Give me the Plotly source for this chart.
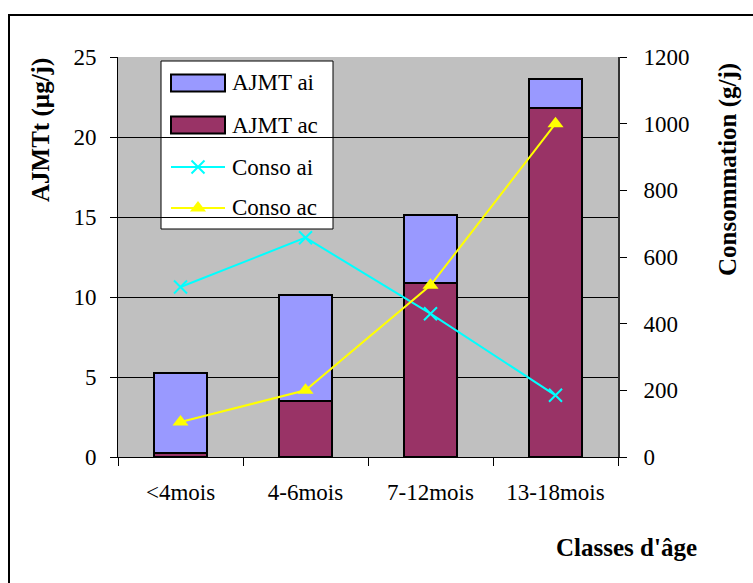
import plotly.graph_objects as go

# Age classes and measured values
categories = ["<4mois", "4-6mois", "7-12mois", "13-18mois"]
ajmt_ac = [0.26, 3.5, 10.85, 21.8]          # µg/j, lower stack
ajmt_ai = [5.02, 6.6, 4.3, 1.8]             # µg/j, upper stack
conso_ai = [510, 658, 430, 185]             # g/j
conso_ac = [105, 200, 515, 1000]            # g/j

left_ticks = [0, 5, 10, 15, 20, 25]
right_ticks = [0, 200, 400, 600, 800, 1000, 1200]

SERIF = "Liberation Serif"
TXT = 23          # regular text size
C_AI = "#9999FF"
C_AC = "#993366"
C_CONSO_AI = "#00FFFF"
C_CONSO_AC = "#FFFF00"

fig = go.Figure()

fig.add_trace(go.Bar(x=categories, y=ajmt_ac, name="AJMT ac", width=0.42,
                     marker=dict(color=C_AC, line=dict(color="black", width=2)),
                     showlegend=False))
fig.add_trace(go.Bar(x=categories, y=ajmt_ai, name="AJMT ai", width=0.42,
                     marker=dict(color=C_AI, line=dict(color="black", width=2)),
                     showlegend=False))
fig.add_trace(go.Scatter(x=categories, y=conso_ai, name="Conso ai", yaxis="y2",
                         mode="lines+markers",
                         line=dict(color=C_CONSO_AI, width=2),
                         marker=dict(symbol="x-thin", size=13,
                                     line=dict(color=C_CONSO_AI, width=2)),
                         showlegend=False))
fig.add_trace(go.Scatter(x=categories, y=conso_ac, name="Conso ac", yaxis="y2",
                         mode="lines+markers",
                         line=dict(color=C_CONSO_AC, width=2),
                         marker=dict(symbol="triangle-up", size=14, color=C_CONSO_AC),
                         showlegend=False))

# Hand-built legend box (paper coordinates)
lg_x0, lg_x1, lg_y0, lg_y1 = 0.086, 0.43, 0.57, 0.99
sw_x0, sw_x1 = 0.106, 0.214
sw_h = 0.021
rows = [0.935, 0.83, 0.725, 0.6225]
labels = ["AJMT ai", "AJMT ac", "Conso ai", "Conso ac"]

shapes = [
    dict(type="rect", xref="paper", yref="paper", x0=lg_x0, x1=lg_x1, y0=lg_y0, y1=lg_y1,
         fillcolor="white", line=dict(color="black", width=1), layer="between"),
    dict(type="rect", xref="paper", yref="paper", x0=sw_x0, x1=sw_x1,
         y0=rows[0] - sw_h, y1=rows[0] + sw_h, fillcolor=C_AI,
         line=dict(color="black", width=2), layer="between"),
    dict(type="rect", xref="paper", yref="paper", x0=sw_x0, x1=sw_x1,
         y0=rows[1] - sw_h, y1=rows[1] + sw_h, fillcolor=C_AC,
         line=dict(color="black", width=2), layer="between"),
    dict(type="line", xref="paper", yref="paper", x0=sw_x0, x1=sw_x1,
         y0=rows[2], y1=rows[2], line=dict(color=C_CONSO_AI, width=2), layer="between"),
    dict(type="line", xref="paper", yref="paper", x0=sw_x0, x1=sw_x1,
         y0=rows[3], y1=rows[3], line=dict(color=C_CONSO_AC, width=2), layer="between"),
    # outer chart frame
    dict(type="rect", xref="paper", yref="paper", x0=-0.218, x1=1.3, y0=-0.4, y1=1.105,
         fillcolor="rgba(0,0,0,0)", line=dict(color="black", width=2), layer="above"),
]

mid = (sw_x0 + sw_x1) / 2
fig.add_trace(go.Scatter(x=[mid], y=[rows[2]], xaxis="x3", yaxis="y3", mode="markers",
                         marker=dict(symbol="x-thin", size=13,
                                     line=dict(color=C_CONSO_AI, width=2)),
                         showlegend=False, hoverinfo="skip"))
fig.add_trace(go.Scatter(x=[mid], y=[rows[3]], xaxis="x3", yaxis="y3", mode="markers",
                         marker=dict(symbol="triangle-up", size=14, color=C_CONSO_AC),
                         showlegend=False, hoverinfo="skip"))

annotations = [
    dict(text=t, x=0.224, y=r, xref="paper", yref="paper", xanchor="left",
         yanchor="middle", showarrow=False, font=dict(family=SERIF, size=TXT, color="black"))
    for t, r in zip(labels, rows)
]
annotations += [
    dict(text="<b>AJMTt (µg/j)</b>", x=-0.154, y=0.8175, xref="paper", yref="paper",
         textangle=-90, showarrow=False, xanchor="center", yanchor="middle",
         font=dict(family=SERIF, size=25, color="black")),
    dict(text="<b>Consommation (g/j)</b>", x=1.22, y=0.7175, xref="paper", yref="paper",
         textangle=-90, showarrow=False, xanchor="center", yanchor="middle",
         font=dict(family=SERIF, size=25, color="black")),
    dict(text="<b>Classes d'âge</b>", x=1.016, y=-0.225, xref="paper", yref="paper",
         showarrow=False, xanchor="center", yanchor="middle",
         font=dict(family=SERIF, size=25, color="black")),
]

fig.update_layout(
    width=753, height=583,
    margin=dict(l=118, r=135, t=57, b=126),
    paper_bgcolor="white",
    plot_bgcolor="#C0C0C0",
    barmode="stack",
    bargap=0.58,
    showlegend=False,
    font=dict(family=SERIF, size=TXT, color="black"),
    xaxis=dict(type="category", categoryorder="array", categoryarray=categories,
               showline=True, linecolor="black", linewidth=1,
               ticks="outside", ticklen=8, tickcolor="black", tickson="boundaries",
               ticklabelstandoff=14, showgrid=False,
               tickfont=dict(family=SERIF, size=TXT)),
    yaxis=dict(range=[0, 25], tickvals=left_ticks, showgrid=True, gridcolor="black",
               gridwidth=1, showline=True, linecolor="black", linewidth=1,
               ticks="outside", ticklen=7, tickcolor="black", zeroline=False,
               ticklabelstandoff=9, tickfont=dict(family=SERIF, size=TXT)),
    yaxis2=dict(range=[0, 1200], tickvals=right_ticks, overlaying="y", side="right",
                showgrid=False, showline=True, linecolor="#333333", linewidth=2,
                ticks="outside", ticklen=7, tickcolor="black", zeroline=False,
                ticklabelstandoff=12, tickfont=dict(family=SERIF, size=TXT)),
    xaxis3=dict(range=[0, 1], overlaying="x", visible=False, fixedrange=True),
    yaxis3=dict(range=[0, 1], overlaying="y", visible=False, fixedrange=True),
    shapes=shapes,
    annotations=annotations,
)

fig.write_html("out.html")
